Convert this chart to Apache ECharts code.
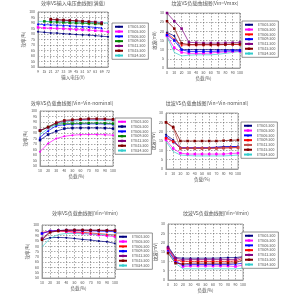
<!DOCTYPE html>
<html>
<head>
<meta charset="utf-8">
<script src="https://cdn.jsdelivr.net/npm/echarts@6/dist/echarts.min.js"></script>
<style>
  html, body { margin: 0; padding: 0; background: #fff; }
  #main { width: 297px; height: 300px; }
</style>
</head>
<body>
<div id="main"></div>
<script>
// model names shown in every legend
const models = ['ETB03-500', 'ETB05-500', 'ETB06-500', 'ETB09-500', 'ETB12-500', 'ETB15-500', 'ETB24-500']

// x categories
const vinTicks = ['9', '15', '21', '27', '33', '39', '45', '51', '57', '63', '69', '72']
const loadTicks10 = ['10', '20', '30', '40', '50', '60', '70', '80', '90', '100']
const loadTicks0 = ['0', '10', '20', '30', '40', '50', '60', '70', '80', '90', '100']

// panel 1: efficiency vs input voltage (full load)
const effVin = [
  [82, 81.5, 81, 80.8, 80.3, 80, 79.5, 79.2, 79, 78.5, 78, 77.5],
  [86, 85.5, 85.3, 85, 84.8, 84.5, 84, 83.8, 83.5, 83, 82.8, 82],
  [89, 88.5, 88.3, 88, 87.8, 87.5, 87, 86.8, 86.5, 86, 85.5, null],
  [null, 91.5, 91, 90.8, 90.5, 90.3, 90, 89.8, 89.5, 89.2, 89, null],
  [null, null, 93, 92.8, 92.5, 92.3, 92, 91.7, 91.3, 91, 90.5, null],
  [null, null, 93.5, 93, 92.7, 92.3, 92, 91.5, 91, 90.5, 89.5, null],
  [91.5, 91.5, 91.3, 91.2, 91, 91, 90.8, 90.7, 90.5, 90.5, 90.3, 90]
]
// panel 2: ripple vs load (Vin = Vmax)
const ripVmax = [
  [19.4, 17.5, 10, 10, 10, 10, 10, 10, 10, 10, 10],
  [17.5, 11, 8.5, 8, 8, 8, 8.2, 8.5, 8.8, 9, 9],
  [19, 15.7, 12.6, 12.6, 12.6, 12.6, 12.6, 12.6, 12.8, 12.8, 12.8],
  [18, 15, 10, 9, 9, 9, 9, 9.2, 9.3, 9.5, 9.5],
  [30, 25.5, 21.5, 14, 13.8, 13.6, 13.6, 13.6, 13.7, 13.8, 14],
  [25.5, 21.5, 13.5, 12.8, 12.8, 12.8, 12.8, 12.8, 12.8, 13, 13],
  [17, 8.5, 6.6, 7, 7.2, 7.2, 7.2, 7.5, 8, 8.5, 9]
]
// panel 3: efficiency vs load (Vin = nominal)
const effNom = [
  [63, 70.5, 75, 77, 78, 78.5, 78.6, 78.6, 78.4, 78],
  [73.5, 78.6, 81.6, 84, 84.5, 84.6, 84.6, 84.6, 84.4, 84],
  [76, 82, 86.5, 87.5, 88, 88.2, 88.3, 88.3, 88.2, 88],
  [82, 85.5, 88, 88.5, 88.6, 88.8, 89, 89, 88.8, 88.5],
  [82.5, 85, 89, 90.7, 91.6, 92.2, 92.5, 92.5, 92.5, 92],
  [82, 85.5, 89.5, 91.5, 92.2, 92.6, 93, 93, 92.8, 92.5],
  [78.6, 84, 87.7, 90, 90.8, 91.2, 91.5, 91.5, 91.3, 91]
]
// panel 4: ripple vs load (Vin = nominal)
const ripNom = [
  [18.3, 15.6, 11, 11, 11, 11, 11, 11.5, 12, 12, 12],
  [15.6, 11, 8.5, 8, 8, 8, 8, 8, 8, 8.3, 8.5],
  [17.5, 14.5, 11.5, 11.5, 11.5, 11.5, 11.5, 11.7, 11.8, 12, 12],
  [16.5, 14.7, 11.2, 11.2, 11.2, 11.2, 11.2, 11.2, 11.3, 11.5, 11.5],
  [25, 22, 11, 11, 11, 11, 11, 11, 11.2, 11.3, 11.5],
  [25, 22.5, 15, 15, 15, 15, 15, 15, 15.2, 15.4, 15.5],
  [14.7, 9.4, 7.5, 7.2, 7, 7, 7, 7, 7, 7.2, 7.5]
]
// panel 5: efficiency vs load (Vin = Vmin)
const effMin = [
  [85.8, 88, 88.3, 88, 87.3, 86.4, 85.8, 84.8, 84.2, 82.6],
  [92, 94.3, 94.6, 93.7, 93, 92.2, 91.5, 90.5, 89.8, 89],
  [93, 94, 94.3, 94, 93.5, 93, 92.5, 91.8, 91.2, 90.5],
  [92, 94.3, 94.8, 95, 94.8, 94.6, 94.5, 94.2, 94, 93.7],
  [87.3, 93.7, 94.6, 95.3, 95.3, 95.2, 95.2, 95, 95, 95],
  [86, 93, 94.5, 95, 95.2, 95.2, 95, 95, 94.8, 94.6],
  [79.4, 87.3, 91, 92, 92, 91.8, 91.5, 91.2, 91, 90.5]
]
// panel 6: ripple vs load (Vin = Vmin)
const ripMin = [
  [18, 12, 11.7, 11.7, 11.7, 11.7, 11.7, 11.8, 12, 12, 12.5],
  [16, 10, 7.2, 7.5, 7.5, 7.5, 7.5, 7.5, 7.5, 7.2, 8],
  [16, 10, 8, 8.3, 8.3, 8.3, 8.3, 8.3, 8.3, 8.5, 9],
  [17, 10.8, 10, 10, 10, 10, 10, 10, 10, 10.2, 11.7],
  [17.4, 11.7, 10.8, 11, 11, 11, 11, 11, 11, 11, 12.5],
  [14.4, 9, 8.6, 9, 9, 9, 9, 9, 9, 9.2, 10.8],
  [15.3, 9, 6, 6, 6, 6, 6, 6, 6, 6, 6.3]
]

const NAVY = '#000080', MAG = '#FF00FF', BLUE = '#0000FF', GREEN = '#008000'
const PURP = '#800080', DRED = '#800000', CYAN = '#33CCCC', RED = '#FF0000', BROWN = '#C0504D'

// layout for each panel
const panels = [
  { title: '效率VS输入电压曲线图(满载)', tx: 73, ty: 1, grid: [38, 12, 70, 55], lg: [112, 23],
    x: vinTicks, y: [50, 100, 5], xName: '输入电压(V)', yName: '效率(%)', data: effVin,
    colors: [NAVY, MAG, BLUE, GREEN, PURP, DRED, CYAN] },
  { title: '纹波VS负载曲线图(Vin=Vmax)', tx: 205, ty: 1, grid: [167, 13, 73, 55], lg: [242, 21],
    x: loadTicks0, y: [0, 30, 5], xName: '负载(%)', yName: '纹波(mV)', data: ripVmax,
    colors: [NAVY, MAG, RED, BLUE, PURP, DRED, CYAN] },
  { title: '效率VS负载曲线图(Vin=Vin-nominal)', tx: 72, ty: 101, grid: [40, 111, 73, 55], lg: [115, 118],
    x: loadTicks10, y: [50, 100, 5], xName: '负载(%)', yName: '效率(%)', data: effNom,
    colors: [MAG, NAVY, BLUE, GREEN, PURP, DRED, CYAN] },
  { title: '纹波VS负载曲线图(Vin=Vin-nominal)', tx: 207, ty: 101, grid: [166, 113, 72, 56], lg: [241, 122],
    x: loadTicks0, y: [0, 30, 5], xName: '负载(%)', yName: '纹波(mV)', data: ripNom,
    colors: [NAVY, MAG, BLUE, RED, BROWN, DRED, CYAN] },
  { title: '效率VS负载曲线图(Vin=Vmin)', tx: 85, ty: 211, grid: [42, 225, 73, 53], lg: [116, 233],
    x: loadTicks10, y: [50, 100, 5], xName: '负载(%)', yName: '效率(%)', data: effMin,
    colors: [NAVY, MAG, RED, BLUE, PURP, DRED, CYAN] },
  { title: '纹波VS负载曲线图(Vin=Vmin)', tx: 216, ty: 211, grid: [168, 224, 75, 56], lg: [242, 232],
    x: loadTicks0, y: [0, 30, 5], xName: '负载(%)', yName: '纹波(mV)', data: ripMin,
    colors: [NAVY, MAG, BLUE, RED, PURP, DRED, CYAN] }
]

const symbols = ['diamond', 'rect', 'triangle', 'rect', 'rect', 'rect', 'none']
const font = '"Noto Sans CJK SC", "DejaVu Sans", sans-serif'
// zero-width spaces keep names unique per panel, stripped again in the legend
const tag = (name, p) => name + '\u200b'.repeat(p + 1)

const option = {
  backgroundColor: '#fff',
  animation: false,
  title: [], grid: [], xAxis: [], yAxis: [], legend: [], series: []
}

panels.forEach((p, i) => {
  option.title.push({
    text: p.title, left: p.tx, top: p.ty, textAlign: 'center', padding: 0,
    textStyle: { fontSize: 5, fontWeight: 'normal', color: '#555', fontFamily: font }
  })
  option.grid.push({
    left: p.grid[0], top: p.grid[1], width: p.grid[2], height: p.grid[3],
    show: true, borderColor: '#aaa', borderWidth: 1, backgroundColor: '#fff'
  })
  option.xAxis.push({
    type: 'category', gridIndex: i, data: p.x, boundaryGap: false,
    name: p.xName, nameLocation: 'middle', nameGap: 8,
    nameTextStyle: { fontSize: 4.5, color: '#555', fontFamily: font },
    axisLine: { lineStyle: { color: '#999', width: 1 } },
    axisTick: { show: false },
    axisLabel: { interval: 0, fontSize: 3.5, color: '#555', margin: 3, fontFamily: font },
    splitLine: { show: true, lineStyle: { color: '#555', width: 0.5, type: [1.5, 1.5] } }
  })
  option.yAxis.push({
    type: 'value', gridIndex: i, min: p.y[0], max: p.y[1], interval: p.y[2],
    name: p.yName, nameLocation: 'middle', nameGap: 9, nameRotate: 90,
    nameTextStyle: { fontSize: 4.5, color: '#555', fontFamily: font },
    axisLine: { show: true, lineStyle: { color: '#999', width: 1 } },
    axisTick: { show: false },
    axisLabel: { fontSize: 3.5, color: '#555', margin: 3, fontFamily: font },
    splitLine: { show: true, lineStyle: { color: '#555', width: 0.5, type: [1.5, 1.5] } }
  })
  option.legend.push({
    orient: 'vertical', left: p.lg[0], top: p.lg[1],
    data: models.map(m => tag(m, i)),
    formatter: n => n.replace(/\u200b/g, ''),
    itemWidth: 8, itemHeight: 3, itemGap: 1.3, padding: [2, 3, 2, 2],
    borderColor: '#777', borderWidth: 0.8, backgroundColor: '#fff',
    textStyle: { fontSize: 3.5, color: '#555', fontFamily: font }
  })
  p.data.forEach((vals, k) => {
    option.series.push({
      name: tag(models[k], i), type: 'line',
      xAxisIndex: i, yAxisIndex: i, data: vals,
      symbol: symbols[k], symbolSize: 2.5, showSymbol: symbols[k] !== 'none',
      lineStyle: { color: p.colors[k], width: 0.7 },
      itemStyle: { color: p.colors[k] }
    })
  })
})

const myChart = echarts.init(document.getElementById('main'))
myChart.setOption(option)
</script>
</body>
</html>
